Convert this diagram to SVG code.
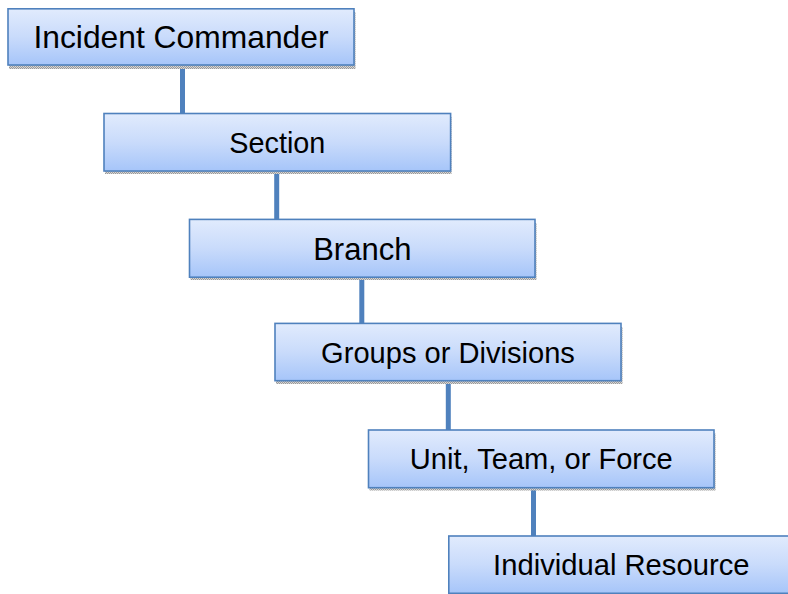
<svg xmlns="http://www.w3.org/2000/svg" width="788" height="594" viewBox="0 0 788 594">
  <defs>
    <linearGradient id="boxFill" x1="0" y1="0" x2="0" y2="1">
      <stop offset="0" stop-color="#e1ebfd"/>
      <stop offset="0.5" stop-color="#c9dbfb"/>
      <stop offset="1" stop-color="#a6c5f9"/>
    </linearGradient>
    <pattern id="dither" width="2" height="2" patternUnits="userSpaceOnUse">
      <rect width="2" height="2" fill="#d6d6d6"/>
      <rect width="1" height="1" fill="#9a9a9a"/>
      <rect x="1" y="1" width="1" height="1" fill="#9a9a9a"/>
    </pattern>
    <style>
      .box { fill: url(#boxFill); stroke: #4f81bd; stroke-width: 1.6; }
      .shadow { fill: url(#dither); }
      .link { stroke: #4f81bd; stroke-width: 5; fill: none; }
      .link-tip { fill: url(#dither); }
      .label { font-family: "Liberation Sans", Arial, sans-serif; fill: #000; text-anchor: middle; }
    </style>
  </defs>

  <rect width="788" height="594" fill="#ffffff"/>

  <!-- connectors -->
  <g id="connectors">
    <line class="link" x1="182.5" y1="65" x2="182.5" y2="113"/>
    <rect class="link-tip" x="180" y="113" width="5" height="3"/>
    <line class="link" x1="276.7" y1="171" x2="276.7" y2="219"/>
    <rect class="link-tip" x="274.2" y="219" width="5" height="3"/>
    <line class="link" x1="361.8" y1="277" x2="361.8" y2="323"/>
    <rect class="link-tip" x="359.3" y="323" width="5" height="3"/>
    <line class="link" x1="448.3" y1="381" x2="448.3" y2="430"/>
    <rect class="link-tip" x="445.8" y="430" width="5" height="3"/>
    <line class="link" x1="533.5" y1="488" x2="533.5" y2="536"/>
    <rect class="link-tip" x="531" y="536" width="5" height="3"/>
  </g>

  <g id="incident-commander">
    <rect class="shadow" x="9" y="12" width="346.5" height="57"/>
    <rect class="box" x="8" y="8.8" width="346" height="56.2"/>
    <text class="label" x="181" y="48.2" font-size="31.8">Incident Commander</text>
  </g>

  <g id="section">
    <rect class="shadow" x="105" y="117" width="346.5" height="57"/>
    <rect class="box" x="104" y="113.5" width="346.6" height="57.5"/>
    <text class="label" x="277.3" y="152.6" font-size="28.8">Section</text>
  </g>

  <g id="branch">
    <rect class="shadow" x="190.5" y="223" width="346" height="57"/>
    <rect class="box" x="189.5" y="219.4" width="345.5" height="57.8"/>
    <text class="label" x="362.3" y="259.6" font-size="31">Branch</text>
  </g>

  <g id="groups-or-divisions">
    <rect class="shadow" x="276" y="327" width="346.5" height="57"/>
    <rect class="box" x="275" y="323.4" width="346" height="57.3"/>
    <text class="label" x="448" y="362.6" font-size="29.1">Groups or Divisions</text>
  </g>

  <g id="unit-team-or-force">
    <rect class="shadow" x="369.5" y="433.5" width="346" height="57"/>
    <rect class="box" x="368.5" y="430" width="345.5" height="57.7"/>
    <text class="label" x="541.3" y="469.4" font-size="29.1">Unit, Team, or Force</text>
  </g>

  <g id="individual-resource">
    <rect class="shadow" x="450" y="539.5" width="346" height="57"/>
    <rect class="box" x="448.8" y="536" width="346" height="57.3"/>
    <text class="label" x="621.3" y="575" font-size="29.2">Individual Resource</text>
  </g>
</svg>
